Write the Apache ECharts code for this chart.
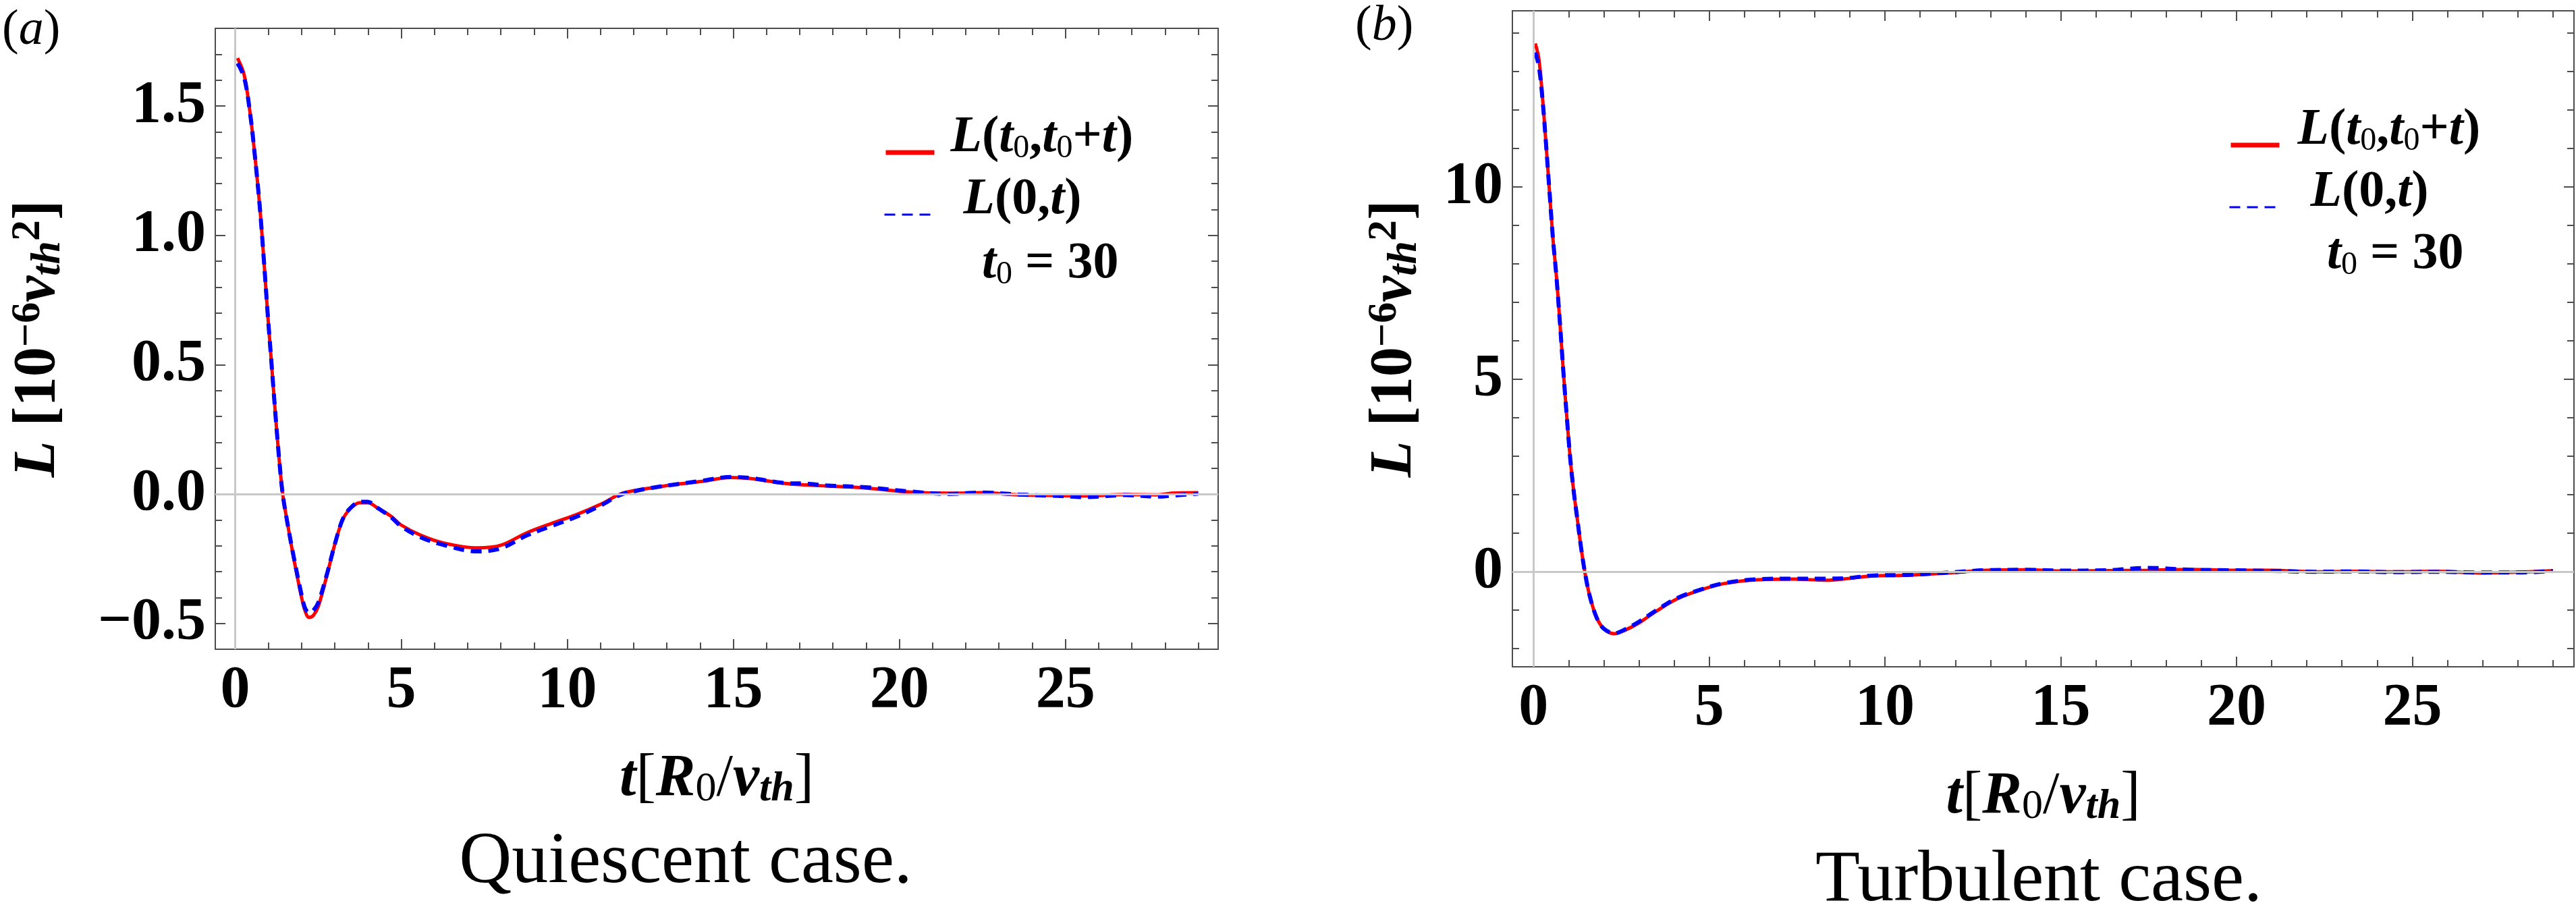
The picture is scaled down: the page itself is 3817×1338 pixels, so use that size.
<!DOCTYPE html>
<html>
<head>
<meta charset="utf-8">
<script src="https://cdn.jsdelivr.net/npm/echarts@6/dist/echarts.min.js"></script>
<style>
  html, body { margin: 0; padding: 0; background: #fff; }
  #chart { width: 3817px; height: 1338px; }
</style>
</head>
<body>
<div id="chart"></div>
<script>
// (a) quiescent case
const tA = [0.07, 0.27, 0.45, 0.59, 0.74, 0.86, 0.97, 1.09, 1.21, 1.32, 1.43, 1.57, 1.75, 1.99, 2.1, 2.22, 2.35, 2.5, 2.74,
  3.03, 3.27, 3.55, 3.75, 3.99, 4.3, 4.68, 5.0, 5.6, 6.3, 7.3, 8.0, 8.78, 9.5, 10.27, 11.0, 11.6, 12.1, 12.6, 13.19,
  14.0, 14.94, 15.5, 16.5, 17.2, 17.8, 19.0, 20.3, 21.5, 22.5, 23.6, 24.9, 25.6, 26.8, 27.8, 28.2, 29.0];
const redA = [1.685, 1.62, 1.47, 1.31, 1.11, 0.91, 0.71, 0.51, 0.31, 0.14, 0.0, -0.11, -0.24, -0.395, -0.45, -0.477, -0.47, -0.435, -0.325,
  -0.18, -0.09, -0.047, -0.034, -0.034, -0.055, -0.085, -0.12, -0.16, -0.19, -0.208, -0.198, -0.15, -0.115, -0.08, -0.04, 0.0, 0.015, 0.025, 0.036,
  0.048, 0.064, 0.06, 0.042, 0.035, 0.031, 0.023, 0.008, 0.003, 0.005, -0.003, -0.006, -0.007, -0.002, -0.003, 0.003, 0.005];
const blueA = [1.665, 1.61, 1.47, 1.31, 1.11, 0.91, 0.71, 0.51, 0.31, 0.14, 0.0, -0.11, -0.235, -0.385, -0.44, -0.458, -0.45, -0.42, -0.32,
  -0.18, -0.088, -0.044, -0.03, -0.03, -0.055, -0.088, -0.125, -0.168, -0.198, -0.222, -0.21, -0.16, -0.125, -0.088, -0.045, -0.003, 0.013, 0.025, 0.036,
  0.05, 0.066, 0.062, 0.043, 0.04, 0.033, 0.026, 0.01, 0.0, 0.006, -0.002, -0.008, -0.012, -0.004, -0.01, -0.006, 0.001];

// (b) turbulent case
const tB = [0.05, 0.15, 0.25, 0.35, 0.45, 0.55, 0.65, 0.75, 0.85, 0.95, 1.05, 1.15, 1.25, 1.35, 1.46, 1.6, 1.8, 2.0, 2.3, 2.6,
  3.0, 3.5, 4.1, 4.8, 5.4, 6.3, 7.4, 8.3, 9.0, 9.6, 10.7, 11.8, 12.9, 14.0, 15.1, 16.3, 17.5, 18.7, 19.8, 21.0, 22.2,
  23.4, 24.5, 25.7, 26.9, 28.0, 29.0];
const redB = [13.73, 13.35, 12.4, 11.2, 9.95, 8.7, 7.7, 6.5, 5.2, 4.0, 2.9, 2.05, 1.35, 0.65, 0.0, -0.63, -1.2, -1.48, -1.61, -1.52,
  -1.33, -1.02, -0.7, -0.46, -0.31, -0.21, -0.19, -0.22, -0.17, -0.11, -0.09, -0.03, 0.04, 0.05, 0.02, 0.03, 0.04, 0.06, 0.04, 0.04, 0.0,
  0.01, 0.0, 0.01, -0.03, -0.01, 0.03];
const blueB = [13.5, 13.15, 12.35, 11.2, 9.95, 8.7, 7.7, 6.5, 5.2, 4.0, 2.9, 2.05, 1.35, 0.65, 0.0, -0.63, -1.2, -1.48, -1.6, -1.5,
  -1.3, -1.0, -0.68, -0.45, -0.3, -0.2, -0.18, -0.18, -0.16, -0.1, -0.08, -0.02, 0.04, 0.05, 0.03, 0.04, 0.1, 0.05, 0.04, 0.02, 0.0,
  0.01, -0.01, 0.0, -0.02, -0.02, 0.02];

const xTicks = [0, 5, 10, 15, 20, 25];
const yTicksA = [-0.5, 0, 0.5, 1.0, 1.5];
const yTicksB = [0, 5, 10];
const seriesNames = ['L(t0,t0+t)', 'L(0,t)'];

const FONT = 'Liberation Serif';

function zip(xs, ys) {
  return xs.map((x, i) => [x, ys[i]]);
}

// minor ticks between the labelled ones
function minorValues(from, to, step, majors) {
  const out = [];
  for (let k = Math.round(from / step); k <= Math.round(to / step); k++) {
    const v = +(k * step).toFixed(4);
    if (!majors.some(m => Math.abs(m - v) < 1e-9)) out.push(v);
  }
  return out;
}

const txt = (size, weight, style, extra) => Object.assign({
  fontFamily: FONT, fontSize: size, fontWeight: weight, fontStyle: style, color: '#000'
}, extra || {});

const nameRich = {
  bi: txt(88, 'bold', 'italic', { lineHeight: 92 }),
  b: txt(88, 'bold', 'normal', { lineHeight: 92 }),
  n: txt(88, 'normal', 'normal', { lineHeight: 92 }),
  sup: txt(62, 'bold', 'normal', { lineHeight: 50, verticalAlign: 'top' }),
  sub: txt(62, 'normal', 'normal', { lineHeight: 50, verticalAlign: 'bottom' }),
  subi: txt(62, 'bold', 'italic', { lineHeight: 50, verticalAlign: 'bottom' })
};

const legendRich = {
  bi: txt(76, 'bold', 'italic', { lineHeight: 80 }),
  b: txt(76, 'bold', 'normal', { lineHeight: 80 }),
  sub: txt(48, 'normal', 'normal', { lineHeight: 36, verticalAlign: 'bottom' })
};

const legendText = {
  'L(t0,t0+t)': '{bi|L}{b|(}{bi|t}{sub|0}{b|,}{bi|t}{sub|0}{b|+}{bi|t}{b|)}',
  'L(0,t)': '{bi|L}{b|(0,}{bi|t}{b|)}'
};

const xName = '{bi|t}{n|[}{bi|R}{sub|0}{n|/}{bi|v}{subi|th}{n|]}';
const yName = '{bi|L}{b| [10}{sup|−6}{bi|v}{subi|th}{sup|2}{b|]}';

const frameColor = '#4d4d4d';

function frameAxes(gridIndex, pos, opp, min, max, majors, minors, label, nameCfg) {
  const line = { show: true, onZero: false, lineStyle: { color: frameColor, width: 2 } };
  const noLine = { show: false, onZero: false };
  const tick = (vals, len) => ({
    show: true, inside: true, length: len, customValues: vals,
    lineStyle: { color: frameColor, width: 2 }
  });
  const base = {
    type: 'value', gridIndex, min, max, silent: true,
    splitLine: { show: false }, minorTick: { show: false }, splitArea: { show: false }
  };
  return [
    Object.assign({}, base, { position: pos, axisLine: line, axisTick: tick(majors, 15), axisLabel: label }, nameCfg),
    Object.assign({}, base, { position: pos, axisLine: noLine, axisTick: tick(minors, 10), axisLabel: { show: false } }),
    Object.assign({}, base, { position: opp, axisLine: line, axisTick: tick(majors, 15), axisLabel: { show: false } }),
    Object.assign({}, base, { position: opp, axisLine: noLine, axisTick: tick(minors, 10), axisLabel: { show: false } })
  ];
}

function tickLabel(values, margin, fmt) {
  return {
    show: true, customValues: values, margin,
    color: '#000', fontFamily: FONT, fontWeight: 'bold', fontSize: 88,
    formatter: fmt
  };
}

const fmtInt = v => String(v);
const fmtOne = v => (v < 0 ? '−' : '') + Math.abs(v).toFixed(1);

function xNameCfg(gap) {
  return {
    name: xName, nameLocation: 'middle', nameGap: gap, nameMoveOverlap: false,
    nameTextStyle: { rich: nameRich }
  };
}
function yNameCfg(gap) {
  return {
    name: yName, nameLocation: 'middle', nameGap: gap, nameRotate: 90, nameMoveOverlap: false,
    nameTextStyle: { rich: nameRich }
  };
}

const xMinor = minorValues(0, 29, 1, xTicks);
const yMinorA = minorValues(-0.5, 1.7, 0.1, yTicksA);
const yMinorB = minorValues(-2, 14, 1, yTicksB);

const xAxes = [
  ...frameAxes(0, 'bottom', 'top', -0.6, 29.6, xTicks, xMinor, tickLabel(xTicks, 18, fmtInt), xNameCfg(147)),
  ...frameAxes(1, 'bottom', 'top', -0.6, 29.6, xTicks, xMinor, tickLabel(xTicks, 18, fmtInt), xNameCfg(147))
];
const yAxes = [
  ...frameAxes(0, 'left', 'right', -0.6, 1.8, yTicksA, yMinorA, tickLabel(yTicksA, 14, fmtOne), yNameCfg(216)),
  ...frameAxes(1, 'left', 'right', -2.47, 14.58, yTicksB, yMinorB, tickLabel(yTicksB, 14, fmtInt), yNameCfg(128))
];

function zeroLines(axisIdx) {
  return {
    name: 'zero', type: 'line', xAxisIndex: axisIdx, yAxisIndex: axisIdx,
    data: [], symbol: 'none', z: 1, silent: true,
    markLine: {
      silent: true, symbol: 'none', animation: false,
      label: { show: false },
      lineStyle: { color: '#c8c8c8', width: 3, type: 'solid' },
      emphasis: { disabled: true },
      data: [{ xAxis: 0 }, { yAxis: 0 }]
    }
  };
}

function curve(name, axisIdx, xs, ys, dashed) {
  return {
    name, type: 'line', xAxisIndex: axisIdx, yAxisIndex: axisIdx,
    data: zip(xs, ys), symbol: 'none', smooth: 0.35, silent: true,
    z: dashed ? 4 : 3,
    lineStyle: dashed
      ? { color: '#0000ff', width: 6, type: [16, 10] }
      : { color: '#ff0000', width: 5 },
    itemStyle: { color: dashed ? '#0000ff' : '#ff0000' }
  };
}

function legendOne(name, left, top, padLeft, lineWidth) {
  return {
    show: true, orient: 'vertical', left, top, padding: 0,
    itemWidth: 72, itemHeight: 14, selectedMode: false,
    formatter: n => legendText[n],
    textStyle: { rich: legendRich, padding: [0, 0, 44, padLeft] },
    data: [{ name, lineStyle: { width: lineWidth }, itemStyle: { opacity: 0 } }]
  };
}

const letterRich = {
  r: txt(74, 'normal', 'normal'),
  i: txt(74, 'normal', 'italic')
};

function textAt(x, y, text, rich, align) {
  return {
    type: 'text', x, y, silent: true,
    style: { text, rich, align: align || 'left', verticalAlign: 'top', fill: '#000' }
  };
}

const chart = echarts.init(document.getElementById('chart'));

chart.setOption({
  animation: false,
  backgroundColor: '#fff',
  grid: [
    { left: 319, top: 42, width: 1486, height: 920, show: false, containLabel: false, outerBoundsMode: 'none' },
    { left: 2241, top: 16, width: 1573, height: 972, show: false, containLabel: false, outerBoundsMode: 'none' }
  ],
  xAxis: xAxes,
  yAxis: yAxes,
  legend: [
    legendOne(seriesNames[0], 1309, 166, 19, 7),
    legendOne(seriesNames[1], 1309, 258, 40, 3),
    legendOne(seriesNames[0], 3302, 155, 22, 7),
    legendOne(seriesNames[1], 3302, 247, 43, 3)
  ],
  series: [
    zeroLines(0),
    curve(seriesNames[0], 0, tA, redA, false),
    curve(seriesNames[1], 0, tA, blueA, true),
    zeroLines(4),
    curve(seriesNames[0], 4, tB, redB, false),
    curve(seriesNames[1], 4, tB, blueB, true)
  ],
  graphic: [
    textAt(3, 9, '{r|(}{i|a}{r|)}', letterRich),
    textAt(2008, 3, '{r|(}{i|b}{r|)}', letterRich),
    textAt(1455, 351, '{bi|t}{sub|0}{b| = 30}', legendRich),
    textAt(3448, 337, '{bi|t}{sub|0}{b| = 30}', legendRich),
    {
      type: 'text', x: 1016, y: 1225, silent: true,
      style: { text: 'Quiescent case.', fontFamily: FONT, fontSize: 108, fill: '#000', align: 'center', verticalAlign: 'top' }
    },
    {
      type: 'text', x: 3021, y: 1252, silent: true,
      style: { text: 'Turbulent case.', fontFamily: FONT, fontSize: 108, fill: '#000', align: 'center', verticalAlign: 'top' }
    }
  ]
});
</script>
</body>
</html>
